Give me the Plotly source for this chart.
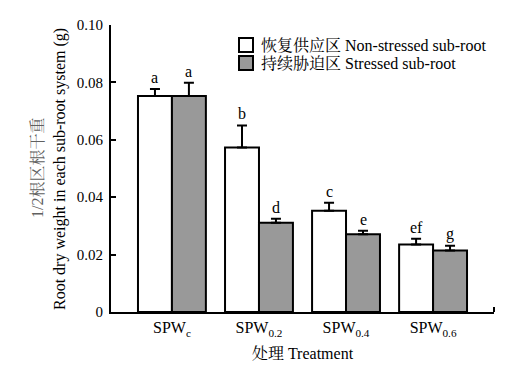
import plotly.graph_objects as go

categories = ["SPWc", "SPW0.2", "SPW0.4", "SPW0.6"]
tick_labels = ["SPW<sub>c</sub>", "SPW<sub>0.2</sub>", "SPW<sub>0.4</sub>", "SPW<sub>0.6</sub>"]
non_stressed = [0.0753, 0.0573, 0.0353, 0.0235]
non_stressed_err = [0.0024, 0.0077, 0.0028, 0.0020]
stressed = [0.0753, 0.0311, 0.0271, 0.0214]
stressed_err = [0.0046, 0.0014, 0.0012, 0.0017]
non_stressed_letters = ["a", "b", "c", "ef"]
stressed_letters = ["a", "d", "e", "g"]
series_names = ["恢复供应区 Non-stressed sub-root", "持续胁迫区 Stressed sub-root"]
series_colors = ["white", "#999999"]
y_ticks = [0, 0.02, 0.04, 0.06, 0.08, 0.10]
y_tick_text = ["0", "0.02", "0.04", "0.06", "0.08", "0.10"]

FONT = "Liberation Serif, Times New Roman, Noto Serif CJK SC, Noto Sans CJK SC, serif"
W, H = 523, 372
L, R, T, B = 111, 29, 25, 60
PW, PH = W - L - R, H - T - B


def px(xp):
    return (xp - L) / PW


def py(yp):
    return (H - B - yp) / PH


fig = go.Figure()
for name, vals, errs, col in [(series_names[0], non_stressed, non_stressed_err, series_colors[0]),
                              (series_names[1], stressed, stressed_err, series_colors[1])]:
    fig.add_trace(go.Bar(
        x=categories, y=vals, name=name, showlegend=False,
        marker=dict(color=col, line=dict(color="black", width=2)),
        error_y=dict(type="data", array=errs, arrayminus=[0] * 4, symmetric=False,
                     color="black", thickness=2, width=5),
    ))

for cat, v, e, t in zip(categories, non_stressed, non_stressed_err, non_stressed_letters):
    fig.add_annotation(x=cat, y=v + e, text=t, showarrow=False, xshift=-17, yshift=1,
                       yanchor="bottom", font=dict(family=FONT, size=16, color="black"))
for cat, v, e, t in zip(categories, stressed, stressed_err, stressed_letters):
    fig.add_annotation(x=cat, y=v + e, text=t, showarrow=False, xshift=17, yshift=1,
                       yanchor="bottom", font=dict(family=FONT, size=16, color="black"))

# y-axis titles (two lines)
fig.add_annotation(xref="paper", yref="paper", x=px(60), y=py(169),
                   text="Root dry weight in each sub-root system (g)",
                   textangle=-90, showarrow=False, xanchor="center", yanchor="middle",
                   font=dict(family=FONT, size=16, color="black"))
fig.add_annotation(xref="paper", yref="paper", x=px(37), y=py(168), text="1/2根区根干重",
                   textangle=-90, showarrow=False, xanchor="center", yanchor="middle",
                   font=dict(family=FONT, size=16, color="#606060"))

# manual legend
for i, (name, col) in enumerate(zip(series_names, series_colors)):
    cy = 45 + 18 * i
    fig.add_shape(type="rect", xref="paper", yref="paper",
                  x0=px(239), x1=px(253), y0=py(cy + 7), y1=py(cy - 7),
                  fillcolor=col, line=dict(color="black", width=2))
    fig.add_annotation(xref="paper", yref="paper", x=px(259), y=py(cy), text=name,
                       showarrow=False, xanchor="left", yanchor="middle",
                       font=dict(family=FONT, size=16, color="black"))

# small end tick on x-axis
fig.add_shape(type="line", xref="paper", yref="paper", x0=1, x1=1, y0=0, y1=5,
              ysizemode="pixel", yanchor=0, line=dict(color="black", width=2))

fig.update_layout(
    width=W, height=H,
    margin=dict(l=L, r=R, t=T, b=B),
    paper_bgcolor="white", plot_bgcolor="white",
    barmode="group", bargap=0.22, bargroupgap=0,
    font=dict(family=FONT, size=16, color="black"),
    showlegend=False,
    xaxis=dict(
        type="category", range=[-0.7, 3.7],
        tickvals=categories, ticktext=tick_labels,
        showline=True, linecolor="black", linewidth=2, ticks="",
        showgrid=False, zeroline=False,
        title=dict(text="处理 Treatment", font=dict(family=FONT, size=16), standoff=10),
        tickfont=dict(family=FONT, size=16),
    ),
    yaxis=dict(
        range=[0, 0.1], tickvals=y_ticks, ticktext=y_tick_text,
        showline=True, linecolor="black", linewidth=2,
        ticks="inside", ticklen=5, tickwidth=2, tickcolor="black",
        ticklabelstandoff=3,
        showgrid=False, zeroline=False,
        tickfont=dict(family=FONT, size=15),
    ),
)

fig.write_html("out.html", config={"displayModeBar": False},
               post_script="document.body.style.margin='0';")
